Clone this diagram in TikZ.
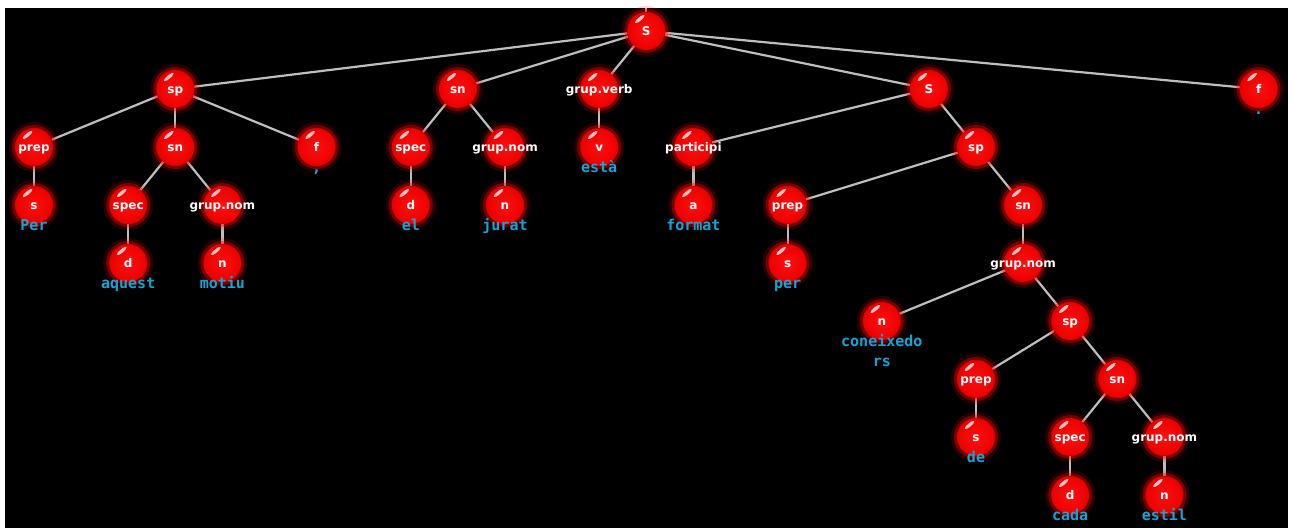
\documentclass[tikz,border=0pt]{standalone}
\usepackage{fontspec}
\newfontfamily\lblfont{DejaVu Sans}
\newfontfamily\wordfont{DejaVu Sans Mono}
\definecolor{edgegray}{RGB}{190,190,190}
\definecolor{wordcyan}{RGB}{20,165,215}
\definecolor{ballred}{RGB}{255,15,15}
\definecolor{ballrim}{RGB}{235,0,0}
\pgfdeclarelayer{background}
\pgfsetlayers{background,main}
\tikzset{
  ball/.style={circle, minimum size=37pt, inner sep=0pt, text=white,
    font=\lblfont\bfseries\fontsize{12}{13}\selectfont,
    text height=9.5pt, text depth=0pt,
    execute at begin node={\hbox to 0pt\bgroup\hss},
    execute at end node={\hss\egroup},
    preaction={draw=red, draw opacity=.15, line width=13pt},
    preaction={draw=red, draw opacity=.35, line width=7pt},
    preaction={draw=red!75!black, line width=1.4pt},
    shade, inner color=ballred, outer color=ballrim,
    path picture={
      \coordinate (hl) at ([xshift=-6.5pt,yshift=12pt]path picture bounding box.center);
      \pgfsetfillcolor{white}\pgfsetfillopacity{0.75}
      \pgfpathellipse{\pgfpointanchor{hl}{center}}{\pgfpoint{4.8pt}{4.0pt}}{\pgfpoint{-1.1pt}{1.3pt}}
      \pgfusepath{fill}
    }},
  word/.style={anchor=base, inner sep=0pt, text=wordcyan,
    font=\wordfont\bfseries\fontsize{15}{20}\selectfont, align=center},
  edge/.style={draw=edgegray, line width=2.2pt}
}
\begin{document}
\begin{tikzpicture}[x=1pt, y=-1pt]
\useasboundingbox (0,0) rectangle (1293,528);
% parse tree
\node[ball] (root) at (646.3,31) {S};
\coordinate (top) at (646.3,8);
% level 1
\node[ball] (sp1) at (175.3,89) {sp};
\node[ball] (sn1) at (457.9,89) {sn};
\node[ball] (gv)  at (599.2,89) {grup.verb};
\node[ball] (S2)  at (928.9,89) {S};
\node[ball] (f2)  at (1258.6,89) {f};
% level 2
\node[ball] (prep1) at (34,147) {prep};
\node[ball] (sn2)   at (175.3,147) {sn};
\node[ball] (f1)    at (316.6,147) {f};
\node[ball] (spec1) at (410.8,147) {spec};
\node[ball] (gn1)   at (505,147) {grup.nom};
\node[ball] (v)     at (599.2,147) {v};
\node[ball] (part)  at (693.4,147) {participi};
\node[ball] (sp2)   at (976,147) {sp};
% level 3
\node[ball] (s1)    at (34,205) {s};
\node[ball] (spec2) at (128.2,205) {spec};
\node[ball] (gn2)   at (222.4,205) {grup.nom};
\node[ball] (d1)    at (410.8,205) {d};
\node[ball] (n1)    at (505,205) {n};
\node[ball] (a)     at (693.4,205) {a};
\node[ball] (prep2) at (787.6,205) {prep};
\node[ball] (sn3)   at (1023.1,205) {sn};
% level 4
\node[ball] (d2)  at (128.2,263) {d};
\node[ball] (n2)  at (222.4,263) {n};
\node[ball] (s2)  at (787.6,263) {s};
\node[ball] (gn3) at (1023.1,263) {grup.nom};
% level 5
\node[ball] (n3)  at (881.8,321) {n};
\node[ball] (sp3) at (1070.2,321) {sp};
% level 6
\node[ball] (prep3) at (976,379) {prep};
\node[ball] (sn4)   at (1117.3,379) {sn};
% level 7
\node[ball] (s3)    at (976,437) {s};
\node[ball] (spec3) at (1070.2,437) {spec};
\node[ball] (gn4)   at (1164.4,437) {grup.nom};
% level 8
\node[ball] (d3) at (1070.2,495) {d};
\node[ball] (n4) at (1164.4,495) {n};
% words under the leaves
\node[word] (wPer)    at (34,230) {Per};
\node[word] (waquest) at (128.2,288) {aquest};
\node[word] (wmotiu)  at (222.4,288) {motiu};
\node[word] (wcomma)  at (316.6,172) {,};
\node[word] (wel)     at (410.8,230) {el};
\node[word] (wjurat)  at (505,230) {jurat};
\node[word] (westa)   at (599.2,172) {està};
\node[word] (wformat) at (693.4,230) {format};
\node[word] (wper)    at (787.6,288) {per};
\node[word, anchor=north] (wconeix) at (881.8,334) {coneixedo\\rs};
\node[word] (wde)     at (976,462) {de};
\node[word] (wcada)   at (1070.2,520) {cada};
\node[word] (westil)  at (1164.4,520) {estil};
\node[word] (wdot)    at (1258.6,114) {.};
\begin{pgfonlayer}{background}
  \fill[white] (0,0) rectangle (1293,528);
  \fill[black] (5,8) rectangle (1288,528);
  \draw[edge] (top) -- (root.center);
  \foreach \p/\c in {root/sp1, root/sn1, root/gv, root/S2, root/f2,
      sp1/prep1, sp1/sn2, sp1/f1, prep1/s1, sn2/spec2, sn2/gn2, spec2/d2, gn2/n2,
      sn1/spec1, sn1/gn1, spec1/d1, gn1/n1, gv/v,
      S2/part, S2/sp2, part/a, sp2/prep2, sp2/sn3, prep2/s2, sn3/gn3,
      gn3/n3, gn3/sp3, sp3/prep3, sp3/sn4, prep3/s3, sn4/spec3, sn4/gn4,
      spec3/d3, gn4/n4}
    \draw[edge] (\p.center) -- (\c.center);
\end{pgfonlayer}
\end{tikzpicture}
\end{document}
